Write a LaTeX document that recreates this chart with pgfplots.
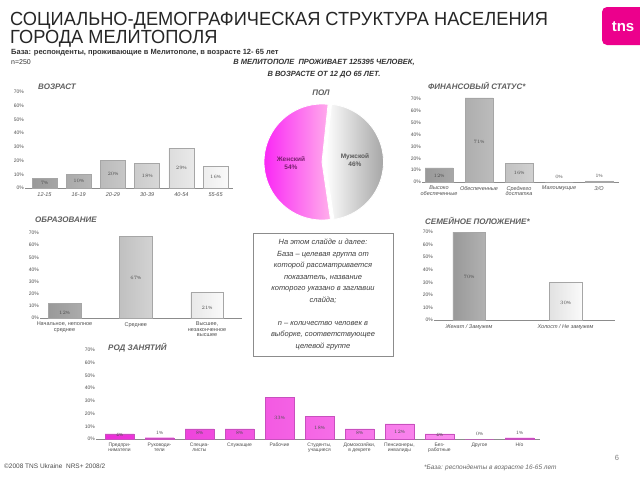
\documentclass[border=0pt]{standalone}
\usepackage{pgfplots}
\pgfplotsset{compat=1.18}
\usepackage{fontspec}
\setmainfont{Liberation Sans}
\definecolor{tnspink}{RGB}{236,0,140}
\definecolor{femL}{RGB}{250,40,245}
\definecolor{femR}{RGB}{255,175,235}
\definecolor{pinkL}{RGB}{235,45,215}
\definecolor{pinkR}{RGB}{255,165,245}
\definecolor{pinkD}{RGB}{200,80,190}
\definecolor{txt}{RGB}{80,80,80}
\definecolor{ttl}{RGB}{95,95,95}
\definecolor{femtxt}{RGB}{120,30,110}
\newcommand\fs[1]{\fontsize{#1}{#1}\selectfont}
\pgfplotsset{
  sdbar/.style={
    scale only axis, anchor=south west, clip=false,
    ymin=0, ymax=70, ytick={0,10,...,70},
    yticklabels={0\%,10\%,20\%,30\%,40\%,50\%,60\%,70\%},
    axis x line*=bottom, axis y line*=left,
    y axis line style={draw=none},
    x axis line style={black!45, line width=0.4pt},
    major tick style={draw=none},
    tick label style={text=txt},
    yticklabel style={font=\fs{5}, inner xsep=1pt},
    xticklabel style={align=center, inner ysep=4pt, font=\fs{5.5}\itshape},
    xtick={0,1,...,10},
  },
  greybar/.style={ybar, bar shift=0pt, draw=black!35, line width=0.3pt, left color=black!40, right color=black!2},
  pinkbar/.style={ybar, bar shift=0pt, draw=pinkD, line width=0.3pt, left color=pinkL, right color=pinkR},
  labs/.style={draw=none, mark=none, point meta=explicit,
    nodes near coords={\pgfmathprintnumber{\pgfplotspointmeta}\%},
    every node near coord/.append style={anchor=center, font=\fs{4.5}, text=txt}},
}
\begin{document}
\begin{tikzpicture}
\path[use as bounding box, fill=white] (0pt,0pt) rectangle (640pt,-480pt);

% ---------- AGE ----------
\begin{axis}[sdbar, at={(25pt,-188pt)}, width=208pt, height=96pt,
  xmin=-0.57, xmax=5.51,
  xticklabels={12-15,16-19,20-29,30-39,40-54,55-65}]
\addplot[greybar, bar width=0.73] table[x=x,y=v] {
x v
0 7
1 10
2 20
3 18
4 29
5 16
};
\addplot[labs] table[x=x,y=y,meta=v] {
x y v
0 3.5 7
1 5 10
2 10 20
3 9 18
4 14.5 29
5 8 16
};
\end{axis}

% ---------- FINANCE ----------
\begin{axis}[sdbar, at={(422pt,-182pt)}, width=197pt, height=83pt,
  xmin=-0.425, xmax=4.5,
  xticklabels={{Высоко\\обеспеченные},Обеспеченные,{Среднего\\достатка},Малоимущие,З/О}]
\addplot[greybar, bar width=0.7] table[x=x,y=v] {
x v
0 12
1 71
2 16
3 0
4 1
};
\addplot[labs] table[x=x,y=y,meta=v] {
x y v
0 5.5 12
1 34 71
2 7.8 16
3 4.5 0
4 4.8 1
};
\end{axis}

% ---------- EDUCATION ----------
\begin{axis}[sdbar, at={(40pt,-318pt)}, width=202pt, height=85pt,
  xmin=-0.344, xmax=2.49,
  xticklabel style={font=\fs{5.5}},
  xticklabels={{Начальное, неполное\\среднее},Среднее,{Высшее,\\незаконченное\\высшее}}]
\addplot[greybar, bar width=0.46] table[x=x,y=v] {
x v
0 12
1 67
2 21
};
\addplot[labs] table[x=x,y=y,meta=v] {
x y v
0 4.5 12
1 33 67
2 8.5 21
};
\end{axis}

% ---------- FAMILY ----------
\begin{axis}[sdbar, at={(434pt,-320pt)}, width=181pt, height=88pt,
  xmin=-0.363, xmax=1.513,
  xticklabels={{Женат / Замужем},{Холост / Не замужем}}]
\addplot[greybar, bar width=0.335] table[x=x,y=v] {
x v
0 70
1 30
};
\addplot[labs] table[x=x,y=y,meta=v] {
x y v
0 34 70
1 13.5 30
};
\end{axis}

% ---------- OCCUPATION ----------
\begin{axis}[sdbar, at={(96pt,-439pt)}, width=444pt, height=89pt,
  xmin=-0.5875, xmax=10.5125,
  xticklabel style={font=\fs{5}},
  xticklabels={{Предпри-\\ниматели},{Руководи-\\тели},{Специа-\\листы},Служащие,Рабочие,{Студенты,\\учащиеся},{Домохозяйки,\\в декрете},{Пенсионеры,\\инвалиды},{Без-\\работные},Другое,Н/о}]
\addplot[pinkbar, bar width=0.72] table[x=x,y=v] {
x v
0 4
1 1
2 8
3 8
4 33
5 18
6 8
7 12
8 4
9 0
10 1
};
\addplot[labs] table[x=x,y=y,meta=v] {
x y v
0 3.5 4
1 4.5 1
2 4.5 8
3 4.5 8
4 16.5 33
5 8.5 18
6 4.5 8
7 5.5 12
8 3.5 4
9 4 0
10 4.5 1
};
\end{axis}

% ---------- PIE ----------
\begin{axis}[scale only axis, anchor=south west, at={(264pt,-220pt)},
  width=116pt, height=116pt, xmin=-1, xmax=1, ymin=-1, ymax=1,
  hide axis, clip=false]
\addplot[draw=white, line width=0.8pt, left color=femL, right color=femR,
  domain=84:84+3.6*54, samples=90] ({cos(x)},{sin(x)}) -- (0,0) -- cycle;
\addplot[draw=white, line width=0.8pt, left color=white, right color=black!35,
  domain=84+3.6*54:444, samples=90] ({cos(x)+0.06},{sin(x)}) -- (0.06,0) -- cycle;
\end{axis}

\begin{scope}[x=1pt, y=-1pt]
% title
\node[anchor=base west, inner sep=0pt, text=black!85, font=\fontsize{19}{16.5}\selectfont] at (10,25)
  {\scalebox{0.96}[1]{\begin{tabular}[t]{@{}l@{}}СОЦИАЛЬНО-ДЕМОГРАФИЧЕСКАЯ СТРУКТУРА НАСЕЛЕНИЯ\\ГОРОДА МЕЛИТОПОЛЯ\end{tabular}}};
\node[anchor=west, inner sep=0pt, font=\fs{7.5}\bfseries, text=black!80] at (11,52.5)
  {База: респонденты, проживающие в Мелитополе, в возрасте 12- 65 лет};
\node[anchor=west, inner sep=0pt, font=\fs{7}, text=black!80] at (11,62) {n=250};
\node[inner sep=0pt, font=\fs{7.5}\bfseries\itshape, text=black!80] at (324,62)
  {В МЕЛИТОПОЛЕ \ ПРОЖИВАЕТ 125395 ЧЕЛОВЕК,};
\node[inner sep=0pt, font=\fs{7.5}\bfseries\itshape, text=black!80] at (324,75)
  {В ВОЗРАСТЕ ОТ 12 ДО 65 ЛЕТ.};
% logo
\fill[tnspink, rounded corners=5pt] (602,7) rectangle (645,45);
\node[text=white, font=\fs{15}\bfseries, inner sep=0pt] at (623,27) {tns};
% chart titles
\node[anchor=west, inner sep=0pt, font=\fs{8}\bfseries\itshape, text=ttl] at (38,87) {ВОЗРАСТ};
\node[inner sep=0pt, font=\fs{8}\bfseries\itshape, text=ttl] at (321,93) {ПОЛ};
\node[anchor=west, inner sep=0pt, font=\fs{8}\bfseries\itshape, text=ttl] at (428,86) {ФИНАНСОВЫЙ СТАТУС*};
\node[anchor=west, inner sep=0pt, font=\fs{8}\bfseries\itshape, text=ttl] at (35,220) {ОБРАЗОВАНИЕ};
\node[anchor=west, inner sep=0pt, font=\fs{8}\bfseries\itshape, text=ttl] at (425,221) {СЕМЕЙНОЕ ПОЛОЖЕНИЕ*};
\node[anchor=west, inner sep=0pt, font=\fs{8}\bfseries\itshape, text=ttl] at (108,348) {РОД ЗАНЯТИЙ};
% pie labels
\node[align=center, inner sep=0pt, font=\fs{6.5}\bfseries, text=femtxt] at (291,163) {Женский\\[1pt]54\%};
\node[align=center, inner sep=0pt, font=\fs{6.5}\bfseries, text=black!65] at (355,160) {Мужской\\[1pt]46\%};
% note box
\draw[black!45, line width=0.6pt] (253,233) rectangle (393,356);
\node[align=center, inner sep=0pt, font=\fs{7.5}\itshape, text=black!75] at (323,294.5)
  {На этом слайде и далее:\\[4pt]
   База – целевая группа от\\[4pt]
   которой рассматривается\\[4pt]
   показатель, название\\[4pt]
   которого указано в заглавии\\[4pt]
   слайда;\\[4pt]
   \mbox{}\\[4pt]
   n – количество человек в\\[4pt]
   выборке, соответствующее\\[4pt]
   целевой группе};
% footer
\node[anchor=west, inner sep=0pt, font=\fs{6.5}, text=black!70] at (4,466) {©2008 TNS Ukraine \ NRS+ 2008/2};
\node[anchor=west, inner sep=0pt, font=\fs{6.5}\itshape, text=black!60] at (424,468) {*База: респонденты в возрасте 16-65 лет};
\node[inner sep=0pt, font=\fs{7.5}, text=black!50] at (617,458) {6};
\end{scope}
\end{tikzpicture}
\end{document}
